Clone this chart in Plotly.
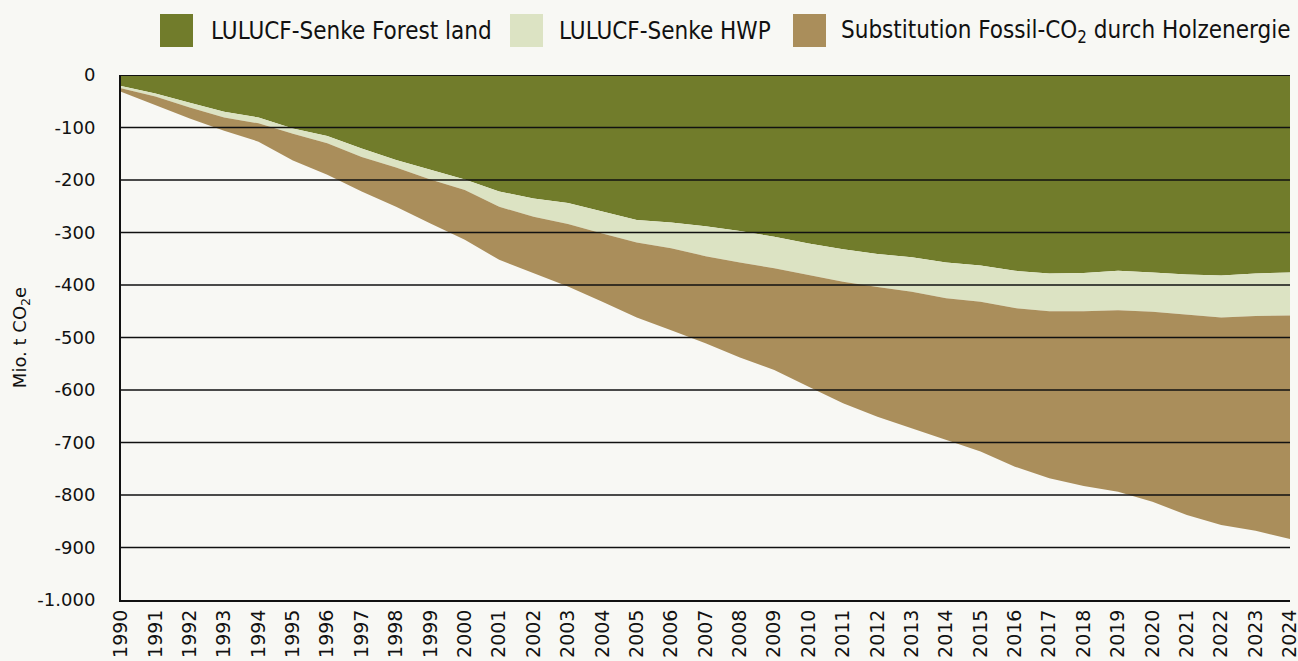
import plotly.graph_objects as go

# Jahre und Werte (Mio. t CO2e)
years = list(range(1990, 2025))
forest_land = [-21, -35, -53, -70, -81, -102, -116, -140, -162, -181, -199, -222, -235, -244, -260, -276, -281,
               -288, -297, -308, -321, -332, -341, -347, -357, -363, -373, -378, -377, -373, -376, -380, -382, -378, -376]
hwp = [-4, -6, -9, -11, -11, -10, -14, -16, -14, -18, -20, -29, -35, -40, -42, -43, -49,
       -57, -60, -60, -60, -62, -63, -66, -68, -69, -71, -72, -73, -75, -75, -77, -80, -81, -82]
substitution = [-7, -16, -21, -25, -35, -51, -60, -66, -75, -84, -95, -101, -108, -119, -130, -143, -156,
                -166, -181, -194, -213, -231, -247, -260, -269, -285, -302, -318, -333, -346, -362, -381, -395, -409, -426]

names = ["LULUCF-Senke Forest land", "LULUCF-Senke HWP", "Substitution Fossil-CO<sub>2</sub> durch Holzenergie"]
colors = ["#717c2b", "#dce3c3", "#aa8e5b"]
y_ticks = list(range(-1000, 1, 100))
y_ticktext = [f"{v:,}".replace(",", ".") for v in y_ticks]

W, H = 1298, 661
ML, MR, MT, MB = 121, 8, 75, 61
PW, PH = W - ML - MR, H - MT - MB

def px_x(p):
    return (p - ML) / PW

def px_y(p):
    return (H - MB - p) / PH

fig = go.Figure()
for vals, name, col in zip([forest_land, hwp, substitution], names, colors):
    fig.add_trace(go.Scatter(x=years, y=vals, name=name, stackgroup="one",
                             mode="lines", line=dict(width=0, color=col),
                             fillcolor=col, showlegend=False))

# Gitterlinien über den Flächen
for v in y_ticks[1:]:
    fig.add_shape(type="line", xref="paper", yref="y", x0=0, x1=1, y0=v, y1=v,
                  line=dict(color="#111111", width=2 if v == 0 else 1.3), layer="above")

# eigene Legende mit grossen Farbfeldern
leg_font = dict(family="DejaVu Sans Condensed, Liberation Sans Narrow, Roboto, sans-serif", size=24, color="#111111")
leg_pos = [(160, 209), (510, 557), (793, 839)]
for (sx, tx), name, col in zip(leg_pos, names, colors):
    fig.add_shape(type="rect", xref="paper", yref="paper", x0=px_x(sx), x1=px_x(sx + 33),
                  y0=px_y(47), y1=px_y(14), fillcolor=col, line=dict(width=0))
    fig.add_annotation(x=px_x(tx), y=px_y(31), xref="paper", yref="paper", text=name,
                       showarrow=False, xanchor="left", yanchor="middle", font=leg_font)

fig.update_layout(
    width=W, height=H,
    margin=dict(l=ML, r=MR, t=MT, b=MB),
    paper_bgcolor="#f8f8f4", plot_bgcolor="#f8f8f4",
    font=dict(family="DejaVu Sans, sans-serif", color="#111111"),
)
fig.update_xaxes(range=[1990, 2024.0001], tickvals=years, tickangle=-90, showgrid=False,
                 showline=True, linecolor="#111111", linewidth=2, automargin=False,
                 ticklabeloverflow="allow", tickfont=dict(size=19), ticks="", zeroline=False)
fig.update_yaxes(range=[-1000, 0], tickvals=y_ticks, ticktext=y_ticktext,
                 showgrid=False, zeroline=False, showline=True, linecolor="#111111", linewidth=2,
                 tickfont=dict(size=18), ticks="", ticklabelstandoff=20, automargin=False,
                 title=dict(text="Mio. t CO<sub>2</sub>e", font=dict(size=18), standoff=6))

fig.write_html("out.html", config={"displayModeBar": False},
               post_script="document.body.style.margin='0';")
